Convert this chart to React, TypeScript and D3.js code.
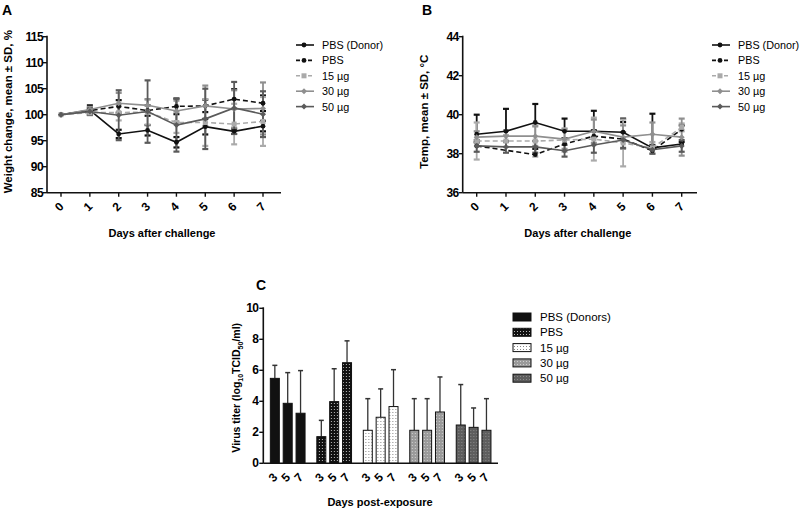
import React from 'react'
import * as d3 from 'd3'

const W = 800
const H = 510
const FONT = 'Liberation Sans, Arial, sans-serif'

// ---- panels A/B data ----
const days = [0, 1, 2, 3, 4, 5, 6, 7]
const seriesNames = ['PBS (Donor)', 'PBS', '15 µg', '30 µg', '50 µg']

const weightDonor = [100, 100.9, 96.3, 97.0, 94.7, 97.7, 96.8, 97.8]
const weightDonorSd = [0, 0.9, 0.8, 1.0, 1.0, 1.5, 0.5, 1.0]
const weightPbs = [100, 100.8, 101.6, 100.8, 101.6, 101.7, 103.0, 102.2]
const weightPbsSd = [0, 0.4, 1.2, 1.0, 1.5, 1.2, 1.9, 1.5]
const weight15 = [100, 100.4, 100.4, 100.5, 98.5, 98.5, 98.2, 98.7]
const weight15Sd = [0, 0.5, 1.5, 2.4, 2.0, 4.5, 3.9, 4.7]
const weight30 = [100, 101.0, 102.2, 101.8, 100.7, 101.7, 101.1, 101.2]
const weight30Sd = [0, 0.5, 2.0, 1.2, 2.0, 3.9, 3.6, 5.0]
const weight50 = [100, 100.6, 99.9, 100.6, 98.0, 99.2, 101.3, 100.1]
const weight50Sd = [0, 0.6, 4.8, 6.0, 5.1, 5.8, 5.0, 4.4]

const tempDonor = [39.0, 39.15, 39.6, 39.15, 39.15, 39.1, 38.3, 38.5]
const tempDonorSd = [1.0, 1.15, 0.95, 0.65, 1.05, 0.7, 1.75, 0.1]
const tempPbs = [38.4, null, 37.95, 38.5, 38.9, 38.75, 38.15, 39.25]
const tempPbsSd = [0.2, 0, 0.3, 0.3, 0.3, 0.87, 0.3, 0.2]
const temp15 = [38.65, 38.65, 38.65, 38.7, 38.75, 38.55, 38.3, 39.35]
const temp15Sd = [0.95, 0.3, 0.8, 0.6, 1.1, 1.2, 0.3, 0.2]
const temp30 = [38.85, 38.9, 38.9, 38.75, 39.15, 38.85, 39.0, 38.85]
const temp30Sd = [0.3, 0.3, 0.5, 0.5, 0.6, 0.6, 0.6, 0.95]
const temp50 = [38.4, 38.35, 38.35, 38.15, 38.45, 38.7, 38.2, 38.4]
const temp50Sd = [0.3, 0.3, 0.3, 0.3, 0.4, 0.4, 0.2, 0.3]

const weightTicks = [85, 90, 95, 100, 105, 110, 115]
const tempTicks = [36, 38, 40, 42, 44]

// ---- panel C data ----
const titerGroups = ['PBS (Donors)', 'PBS', '15 µg', '30 µg', '50 µg']
const titerDays = ['3', '5', '7']
const titerDonors = [5.48, 3.87, 3.23]
const titerDonorsErr = [6.32, 5.85, 5.98]
const titerPbs = [1.72, 3.98, 6.49]
const titerPbsErr = [2.77, 6.1, 7.9]
const titer15 = [2.13, 2.97, 3.66]
const titer15Err = [4.17, 4.8, 6.04]
const titer30 = [2.13, 2.13, 3.31]
const titer30Err = [4.17, 4.17, 5.57]
const titer50 = [2.47, 2.32, 2.13]
const titer50Err = [5.08, 3.57, 4.17]
const titerTicks = [0, 2, 4, 6, 8, 10]

// line styles
const lineStyles = [
  { color: '#111', dash: '', marker: 'circle' },
  { color: '#111', dash: '5,3', marker: 'circle' },
  { color: '#aaa', dash: '5,3', marker: 'square' },
  { color: '#8f8f8f', dash: '', marker: 'diamond' },
  { color: '#5a5a5a', dash: '', marker: 'diamond' },
]

const Marker = ({ x, y, type, color }) => {
  if (type === 'square') return <rect x={x - 2.5} y={y - 2.5} width={5} height={5} fill={color} />
  if (type === 'diamond')
    return <path d={`M${x},${y - 3}L${x + 3},${y}L${x},${y + 3}L${x - 3},${y}Z`} fill={color} />
  return <circle cx={x} cy={y} r={2.4} fill={color} />
}

function LinePanel({ letter, letterX, axisX, axisEnd, xr, yr, domain, ticks, yTitle, series, legendX, legendY }) {
  const x = d3.scaleLinear().domain([0, 7]).range(xr)
  const y = d3.scaleLinear().domain(domain).range(yr)
  const line = d3
    .line()
    .x((d) => x(d[0]))
    .y((d) => y(d[1]))
  const yMid = (yr[0] + yr[1]) / 2
  return (
    <g fontFamily={FONT}>
      <text x={letterX} y={15} fontSize={14} fontWeight="bold">{letter}</text>
      {/* error bars */}
      {series.map((s, i) => (
        <g key={'e' + i} stroke={lineStyles[i].color} strokeWidth={1.8}>
          {days.map((d, j) => {
            const v = s.mean[j]
            const e = s.sd[j]
            if (v == null || !e) return null
            const top = y(v + e)
            const bot = s.up ? y(v) : y(v - e)
            return (
              <g key={j}>
                <line x1={x(d)} x2={x(d)} y1={top} y2={bot} />
                <line x1={x(d) - 3} x2={x(d) + 3} y1={top} y2={top} strokeWidth={2.2} />
                {!s.up && <line x1={x(d) - 3} x2={x(d) + 3} y1={bot} y2={bot} strokeWidth={2.2} />}
              </g>
            )
          })}
        </g>
      ))}
      {/* lines */}
      {series.map((s, i) => {
        const pts = days.map((d, j) => [d, s.mean[j]]).filter((p) => p[1] != null)
        return (
          <g key={'l' + i}>
            <path d={line(pts)} fill="none" stroke={lineStyles[i].color} strokeWidth={1.6}
              strokeDasharray={lineStyles[i].dash} />
            {pts.map((p, j) => (
              <Marker key={j} x={x(p[0])} y={y(p[1])} type={lineStyles[i].marker} color={lineStyles[i].color} />
            ))}
          </g>
        )
      })}
      {/* axes */}
      <line x1={axisX} x2={axisX} y1={yr[1] - 1} y2={yr[0]} stroke="#111" strokeWidth={1.6} />
      <line x1={axisX} x2={axisEnd} y1={yr[0]} y2={yr[0]} stroke="#111" strokeWidth={1.6} />
      {ticks.map((t) => (
        <g key={t}>
          <line x1={axisX - 4} x2={axisX} y1={y(t)} y2={y(t)} stroke="#111" strokeWidth={1.4} />
          <text x={axisX - 4} y={y(t) + 4} fontSize={12} fontWeight="bold" textAnchor="end"
            letterSpacing={-0.6}>{t}</text>
        </g>
      ))}
      {days.map((d) => (
        <g key={d}>
          <line x1={x(d)} x2={x(d)} y1={yr[0]} y2={yr[0] + 4} stroke="#111" strokeWidth={1.4} />
          <text transform={`translate(${x(d) + 1},${yr[0] + 17}) rotate(-45)`} fontSize={12}
            fontWeight="bold" textAnchor="middle">{d}</text>
        </g>
      ))}
      <text x={(axisX + axisEnd) / 2 - 2} y={237} fontSize={11} fontWeight="bold" textAnchor="middle">
        Days after challenge
      </text>
      <text transform={`translate(${axisX - 35},${yMid - 3}) rotate(-90)`} fontSize={11.5}
        fontWeight="bold" textAnchor="middle">{yTitle}</text>
      {/* legend */}
      {seriesNames.map((n, i) => {
        const ly = legendY + i * 15.4
        return (
          <g key={n}>
            <line x1={legendX} x2={legendX + 18} y1={ly} y2={ly} stroke={lineStyles[i].color}
              strokeWidth={1.6} strokeDasharray={lineStyles[i].dash ? '4,2' : ''} />
            <Marker x={legendX + 8} y={ly} type={lineStyles[i].marker} color={lineStyles[i].color} />
            <text x={legendX + 26} y={ly + 4} fontSize={10.8}>{n}</text>
          </g>
        )
      })}
    </g>
  )
}

const barFills = ['#111', 'url(#dotsPbs)', 'url(#dots15)', 'url(#dots30)', 'url(#dots50)']

function BarPanel() {
  const axisX = 263.3
  const axisEnd = 498
  const y = d3.scaleLinear().domain([0, 10]).range([463.3, 308.3])
  const gx = d3.scaleBand().domain(titerGroups).range([axisX, axisEnd]).paddingInner(0.17).paddingOuter(0.11)
  const dx = d3.scaleBand().domain(titerDays).range([0, gx.bandwidth()]).paddingInner(0.3).paddingOuter(0.15)
  const values = [titerDonors, titerPbs, titer15, titer30, titer50]
  const errs = [titerDonorsErr, titerPbsErr, titer15Err, titer30Err, titer50Err]
  return (
    <g fontFamily={FONT}>
      <defs>
        <pattern id="dotsPbs" width={3} height={3} patternUnits="userSpaceOnUse">
          <rect width={3} height={3} fill="#111" />
          <rect x={1} y={1} width={1} height={1} fill="#bbb" />
        </pattern>
        <pattern id="dots15" width={3} height={3} patternUnits="userSpaceOnUse">
          <rect width={3} height={3} fill="#fff" />
          <rect x={1} y={1} width={1} height={1} fill="#888" />
        </pattern>
        <pattern id="dots30" width={3} height={3} patternUnits="userSpaceOnUse">
          <rect width={3} height={3} fill="#9a9a9a" />
          <rect x={1} y={1} width={1} height={1} fill="#cfcfcf" />
        </pattern>
        <pattern id="dots50" width={3} height={3} patternUnits="userSpaceOnUse">
          <rect width={3} height={3} fill="#5e5e5e" />
          <rect x={1} y={1} width={1} height={1} fill="#8a8a8a" />
        </pattern>
      </defs>
      <text x={256} y={290} fontSize={14} fontWeight="bold">C</text>
      {titerGroups.map((g, gi) => (
        <g key={g} transform={`translate(${gx(g)},0)`}>
          {titerDays.map((d, di) => {
            const bx = dx(d)
            const cx = bx + dx.bandwidth() / 2
            const v = values[gi][di]
            const e = errs[gi][di]
            return (
              <g key={d}>
                <line x1={cx} x2={cx} y1={y(e)} y2={y(v)} stroke="#333" strokeWidth={1.3} />
                <line x1={cx - 2.5} x2={cx + 2.5} y1={y(e)} y2={y(e)} stroke="#333" strokeWidth={1.5} />
                <rect x={bx} y={y(v)} width={dx.bandwidth()} height={y(0) - y(v)} fill={barFills[gi]}
                  stroke="#111" strokeWidth={1} />
                <text transform={`translate(${cx + 1},${y(0) + 17}) rotate(-45)`} fontSize={12}
                  fontWeight="bold" textAnchor="middle">{d}</text>
              </g>
            )
          })}
        </g>
      ))}
      <line x1={axisX} x2={axisX} y1={y(10) - 1} y2={y(0)} stroke="#111" strokeWidth={1.6} />
      <line x1={axisX} x2={axisEnd} y1={y(0)} y2={y(0)} stroke="#111" strokeWidth={1.6} />
      {titerTicks.map((t) => (
        <g key={t}>
          <line x1={axisX - 4} x2={axisX} y1={y(t)} y2={y(t)} stroke="#111" strokeWidth={1.4} />
          <text x={axisX - 5} y={y(t) + 4} fontSize={12} fontWeight="bold" textAnchor="end"
            letterSpacing={-0.6}>{t}</text>
        </g>
      ))}
      <text x={380} y={506} fontSize={11} fontWeight="bold" textAnchor="middle">Days post-exposure</text>
      <text transform={`translate(240,${y(5) + 2}) rotate(-90)`} fontSize={10.5} fontWeight="bold"
        textAnchor="middle">
        Virus titer (log<tspan fontSize={7} dy={3}>10</tspan>
        <tspan dy={-3}>TCID</tspan>
        <tspan fontSize={7} dy={3}>50</tspan>
        <tspan dy={-3}>/ml)</tspan>
      </text>
      {titerGroups.map((g, i) => {
        const ly = 317 + i * 15.3
        return (
          <g key={g}>
            <rect x={513} y={ly - 4} width={18} height={8} fill={barFills[i]} stroke="#111" strokeWidth={1} />
            <text x={540} y={ly + 4} fontSize={11.5}>{g}</text>
          </g>
        )
      })}
    </g>
  )
}

export default function App() {
  const weightSeries = [
    { mean: weightDonor, sd: weightDonorSd },
    { mean: weightPbs, sd: weightPbsSd },
    { mean: weight15, sd: weight15Sd },
    { mean: weight30, sd: weight30Sd },
    { mean: weight50, sd: weight50Sd },
  ]
  const tempSeries = [
    { mean: tempDonor, sd: tempDonorSd, up: true },
    { mean: tempPbs, sd: tempPbsSd, up: true },
    { mean: temp15, sd: temp15Sd },
    { mean: temp30, sd: temp30Sd },
    { mean: temp50, sd: temp50Sd },
  ]
  return (
    <div style={{ position: 'fixed', left: 0, top: 0 }}>
      <svg width={W} height={H} style={{ display: 'block', background: '#fff' }}>
        <LinePanel letter="A" letterX={2} axisX={47} axisEnd={281} xr={[61, 263]} yr={[192.7, 36.7]}
          domain={[85, 115]} ticks={weightTicks} yTitle="Weight change, mean ± SD, %"
          series={weightSeries} legendX={296} legendY={45} />
        <LinePanel letter="B" letterX={422} axisX={462.7} axisEnd={697} xr={[476.7, 681.7]} yr={[192.7, 36.7]}
          domain={[36, 44]} ticks={tempTicks} yTitle="Temp, mean ± SD, °C"
          series={tempSeries} legendX={712} legendY={45} />
        <BarPanel />
      </svg>
    </div>
  )
}
